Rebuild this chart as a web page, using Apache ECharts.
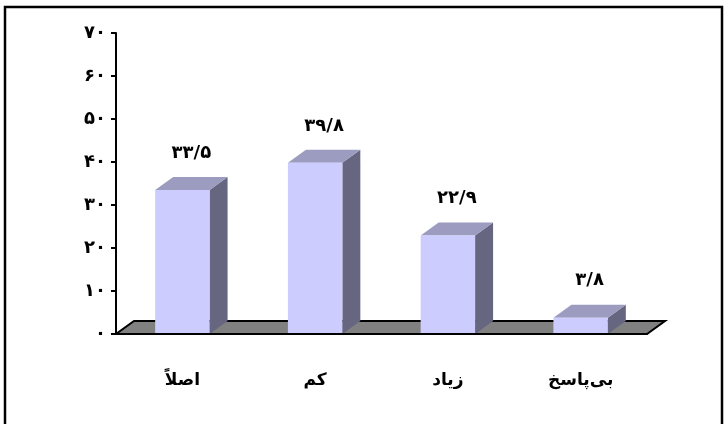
<!DOCTYPE html>
<html><head><meta charset="utf-8">
<script src="https://cdn.jsdelivr.net/npm/echarts@6/dist/echarts.min.js"></script>
<style>html,body{margin:0;padding:0;background:#fff}#c{width:728px;height:424px}</style>
</head><body><div id="c"></div>
<script>
const categories = ['اصلاً', 'کم', 'زیاد', 'بی‌پاسخ'];
const values = [33.5, 39.8, 22.9, 3.8];
const yTickLabels = ['۰', '۱۰', '۲۰', '۳۰', '۴۰', '۵۰', '۶۰', '۷۰'];

const faDigits = '۰۱۲۳۴۵۶۷۸۹';
function toFa(v) {
  return String(v).replace('.', '/').replace(/[0-9]/g, d => faDigits[+d]);
}
const DX = 18, DY = -13;
const FONT = '"DejaVu Sans", sans-serif';

const chart = echarts.init(document.getElementById('c'), null, {renderer: 'canvas'});
chart.setOption({
  animation: false,
  backgroundColor: '#fff',
  graphic: [
    {type: 'rect', shape: {x: 5, y: 7, width: 717, height: 430}, style: {fill: 'none', stroke: '#000', lineWidth: 2.5}, z: -1}
  ],
  grid: {left: 116, top: 33, width: 531, height: 301},
  xAxis: {
    type: 'category', data: categories, z: 10,
    axisLine: {lineStyle: {color: '#000', width: 2}},
    axisTick: {length: 8, lineStyle: {color: '#000', width: 2}},
    axisLabel: {color: '#000', fontFamily: FONT, fontWeight: 'bold', fontSize: 17, margin: 38}
  },
  yAxis: {
    type: 'value', min: 0, max: 70, interval: 10, z: 10,
    splitLine: {show: false},
    axisLine: {show: true, lineStyle: {color: '#000', width: 2}},
    axisTick: {show: true, length: 5, lineStyle: {color: '#000', width: 2}},
    axisLabel: {color: '#000', fontFamily: FONT, fontWeight: 'bold', fontSize: 18, margin: 10,
      formatter: v => yTickLabels[Math.round(v / 10)]}
  },
  series: [
    {
      type: 'custom', z: 1, silent: true,
      data: [[0, 0]],
      renderItem: function (params, api) {
        const cs = params.coordSys;
        const y0 = api.coord([0, 0])[1];
        const xL = cs.x, xR = cs.x + cs.width;
        return {
          type: 'polygon',
          shape: {points: [[xL, y0], [xR, y0], [xR + DX, y0 + DY], [xL + DX, y0 + DY]]},
          style: {fill: '#808080', stroke: '#000', lineWidth: 2}
        };
      }
    },
    {
      type: 'custom', z: 3, silent: true,
      data: values.map((v, i) => [i, v]),
      renderItem: function (params, api) {
        const i = api.value(0), v = api.value(1);
        const top = api.coord([i, v]);
        const base = api.coord([i, 0]);
        const bw = api.size([1, 0])[0] * 0.41;
        const x0 = top[0] - bw / 2, x1 = top[0] + bw / 2;
        const yT = top[1], yB = base[1];
        return {
          type: 'group',
          children: [
            {type: 'polygon', shape: {points: [[x1, yT], [x1 + DX, yT + DY], [x1 + DX, yB + DY], [x1, yB]]},
              style: {fill: '#666680'}},
            {type: 'polygon', shape: {points: [[x0, yT], [x1, yT], [x1 + DX, yT + DY], [x0 + DX, yT + DY]]},
              style: {fill: '#9c9cc0'}},
            {type: 'rect', shape: {x: x0, y: yT, width: bw, height: yB - yT},
              style: {fill: '#ccccff'}},
            {type: 'text', x: top[0] + 9, y: yT - 37,
              style: {text: toFa(v), fill: '#000', font: 'bold 18px ' + FONT, align: 'center', verticalAlign: 'middle'}}
          ]
        };
      }
    }
  ]
});
</script></body></html>
